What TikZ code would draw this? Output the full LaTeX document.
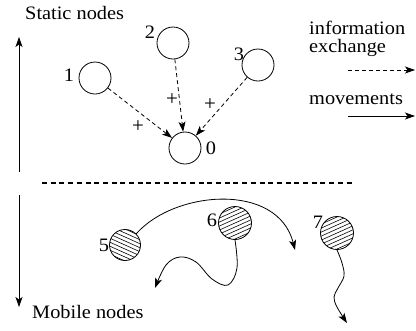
\documentclass[tikz,border=0pt]{standalone}
\usepackage{fontspec}
\setmainfont{Liberation Serif}
\usetikzlibrary{arrows.meta}
\newcommand\wtxt[1]{\scalebox{1.07}[1]{#1}}
\tikzset{
  lbl/.style={inner sep=0pt, font=\fontsize{19bp}{19bp}\selectfont},
  plbl/.style={inner sep=0pt, font=\fontsize{21bp}{21bp}\selectfont},
  stnode/.style={circle, draw, line width=0.8bp, minimum size=32bp, inner sep=0pt},
  tip/.style={-{Stealth[length=10bp,width=7bp,inset=2.5bp]}},
  info/.style={tip, line width=0.8bp, dash pattern=on 4bp off 3bp},
  move/.style={tip, line width=0.8bp},
  hatch/.style={line width=0.6bp},
}
\begin{document}
\begin{tikzpicture}[x=1bp,y=-1bp]
\useasboundingbox (0,0) rectangle (416,331);
% texts
\node[lbl, anchor=base west] (tstatic) at (25,19) {\wtxt{Static nodes}};
\node[lbl, anchor=base west] (tmobile) at (32,318) {\wtxt{Mobile nodes}};
\node[lbl, anchor=base west] (tinfo) at (309,34) {\wtxt{information}};
\node[lbl, anchor=base west] (texch) at (309,52) {\wtxt{exchange}};
\node[lbl, anchor=base west] (tmove) at (309,104) {\wtxt{movements}};
% vertical arrows
\coordinate (upS) at (19,172);
\coordinate (upE) at (19,37);
\coordinate (dnS) at (19,195);
\coordinate (dnE) at (19,307);
\draw[move] (upS) -- (upE);
\draw[move] (dnS) -- (dnE);
% legend arrows
\coordinate (l1S) at (348,70);
\coordinate (l1E) at (415,70);
\coordinate (l2S) at (348,116);
\coordinate (l2E) at (415,116);
\draw[info] (l1S) -- (l1E);
\draw[move] (l2S) -- (l2E);
% static nodes
\node[stnode] (n1) at (95,78) {};
\node[stnode] (n2) at (173,43) {};
\node[stnode] (n3) at (258,65) {};
\node[stnode] (n0) at (185,148) {};
\node[lbl] (k1) at (69,75) {\wtxt{1}};
\node[lbl] (k2) at (150,32) {\wtxt{2}};
\node[lbl] (k3) at (239,54) {\wtxt{3}};
\node[lbl] (k0) at (211,148) {\wtxt{0}};
\draw[info] (n1) -- (n0);
\draw[info] (n2) -- (n0);
\draw[info] (n3) -- (n0);
\node[plbl] (p1) at (138,127) {+};
\node[plbl] (p2) at (172,100) {+};
\node[plbl] (p3) at (210,105) {+};
% separator
\coordinate (sepL) at (42,183);
\coordinate (sepR) at (353,183);
\draw[line width=1.6bp, dash pattern=on 5bp off 3.7bp] (sepL) -- (sepR);
% mobile nodes with hatching
\begin{scope}
  \clip (125,245) circle (15.5);
  \foreach \k in {-28,-24,...,28}
    \draw[hatch] (105,245+\k-9) -- (145,245+\k+9);
\end{scope}
\begin{scope}
  \clip (235,223) circle (16.5);
  \foreach \k in {-28,-24,...,28}
    \draw[hatch] (215,223+\k+9) -- (255,223+\k-9);
\end{scope}
\begin{scope}
  \clip (337,233) circle (16.5);
  \foreach \k in {-28,-24,...,28}
    \draw[hatch] (317,233+\k+9) -- (357,233+\k-9);
\end{scope}
\node[circle, draw, line width=0.8bp, minimum size=31bp, inner sep=0pt] (n5) at (125,245) {};
\node[circle, draw, line width=0.8bp, minimum size=33bp, inner sep=0pt] (n6) at (235,223) {};
\node[circle, draw, line width=0.8bp, minimum size=33bp, inner sep=0pt] (n7) at (337,233) {};
\node[lbl] (k5) at (104,245) {\wtxt{5}};
\node[lbl] (k6) at (212,220) {\wtxt{6}};
\node[lbl] (k7) at (318,222) {\wtxt{7}};
% movements
\coordinate (m5E) at (295,250);
\draw[move] (n5.north east) .. controls (175,190) and (278,182) .. (m5E);
\coordinate (m6E) at (155,288);
\draw[move] plot[smooth, tension=0.6] coordinates {(n6.south) (237,268) (228,285) (212,279) (196,262) (180,257) (166,265) (m6E)};
\coordinate (m7E) at (347,323);
\draw[move] plot[smooth, tension=0.6] coordinates {(n7.south) (342,263) (344,276) (338,288) (334,297) (337,307) (m7E)};
\end{tikzpicture}
\end{document}
